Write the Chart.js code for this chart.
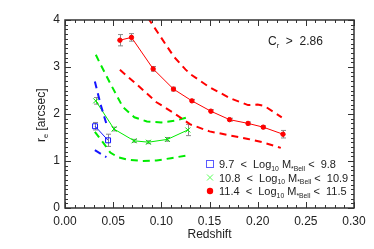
<!DOCTYPE html>
<html>
<head>
<meta charset="utf-8">
<script src="https://cdn.jsdelivr.net/npm/chart.js@4.4.1/dist/chart.umd.min.js"></script>
<style>
  html, body { margin: 0; padding: 0; background: #fff; }
  #wrap { width: 374px; height: 249px; }
</style>
</head>
<body>
<div id="wrap"><canvas id="chart" width="374" height="249"></canvas></div>
<script>
// mass bin 11.4 - 11.5 (red)
const redZ = [0.057, 0.069, 0.0915, 0.1126, 0.1317, 0.1514, 0.1708, 0.190, 0.2058, 0.2263];
const redR = [3.57, 3.63, 2.96, 2.53, 2.28, 2.06, 1.88, 1.80, 1.72, 1.57];
const redErr = [0.12, 0.08, 0.05, 0.04, 0.03, 0.03, 0.03, 0.03, 0.03, 0.08];
const redUpperZ = [0.086, 0.10, 0.113, 0.125, 0.13, 0.15, 0.172, 0.19, 0.20, 0.207, 0.225];
const redUpperR = [4.05, 3.62, 3.22, 2.95, 2.85, 2.57, 2.33, 2.19, 2.20, 2.17, 1.93];
const redLowerZ = [0.057, 0.075, 0.095, 0.113, 0.13, 0.15, 0.17, 0.19, 0.205, 0.224];
const redLowerR = [2.94, 2.62, 2.25, 2.02, 1.78, 1.63, 1.55, 1.47, 1.40, 1.28];

// mass bin 10.8 - 10.9 (green)
const greenZ = [0.0319, 0.0509, 0.0717, 0.0866, 0.1063, 0.1275];
const greenR = [2.28, 1.68, 1.43, 1.40, 1.46, 1.66];
const greenErr = [0.07, 0.04, 0.03, 0.03, 0.04, 0.12];
const greenUpperZ = [0.032, 0.037, 0.047, 0.06, 0.072, 0.085, 0.10, 0.115, 0.127];
const greenUpperR = [3.26, 3.05, 2.65, 2.15, 1.93, 1.84, 1.82, 1.86, 1.93];
const greenLowerZ = [0.031, 0.04, 0.047, 0.055, 0.065, 0.08, 0.095, 0.11, 0.127];
const greenLowerR = [1.62, 1.38, 1.18, 1.08, 1.03, 1.0, 1.01, 1.06, 1.12];

// mass bin 9.7 - 9.8 (blue)
const blueZ = [0.0312, 0.0447];
const blueR = [1.74, 1.44];
const blueErr = [0.08, 0.13];
const blueUpperZ = [0.031, 0.037, 0.044];
const blueUpperR = [2.69, 2.2, 1.72];
const blueLowerZ = [0.031, 0.043];
const blueLowerR = [1.23, 1.08];

const xTicks = [0, 0.05, 0.10, 0.15, 0.20, 0.25, 0.30];
const yTicks = [0, 1, 2, 3, 4];

const RED = 'rgb(255,0,0)';
const GREEN = 'rgb(0,235,0)';
const BLUE = 'rgb(20,20,255)';
const FONT = '"Liberation Sans", Arial, sans-serif';

const pts = (xs, ys) => xs.map((x, i) => ({ x, y: ys[i] }));

function dashed(xs, ys, color) {
  return {
    data: pts(xs, ys),
    showLine: true,
    borderColor: color,
    borderWidth: 2,
    borderDash: [7, 5],
    pointRadius: 0,
    fill: false,
  };
}

// grey error bars under the symbols
const errorBars = {
  id: 'errorBars',
  beforeDatasetsDraw(chart) {
    const { ctx, scales: { x, y } } = chart;
    ctx.save();
    ctx.strokeStyle = '#8a8a8a';
    ctx.lineWidth = 1;
    chart.data.datasets.forEach((ds) => {
      if (!ds.yErr) return;
      ds.data.forEach((p, i) => {
        const px = Math.round(x.getPixelForValue(p.x)) + 0.5;
        const top = y.getPixelForValue(p.y + ds.yErr[i]);
        const bot = y.getPixelForValue(p.y - ds.yErr[i]);
        ctx.beginPath();
        ctx.moveTo(px, top); ctx.lineTo(px, bot);
        ctx.moveTo(px - 2.5, top); ctx.lineTo(px + 2.5, top);
        ctx.moveTo(px - 2.5, bot); ctx.lineTo(px + 2.5, bot);
        ctx.stroke();
      });
    });
    ctx.restore();
  },
};

// draw text pieces, some as subscripts
function rich(ctx, parts, x, y, size) {
  let cx = x;
  parts.forEach(([t, sub]) => {
    const s = sub ? size * 0.62 : size;
    ctx.font = `${s}px ${FONT}`;
    ctx.fillText(t, cx, sub ? y + size * 0.25 : y);
    cx += ctx.measureText(t).width;
  });
}

const frame = {
  id: 'frame',
  afterDraw(chart) {
    const { ctx, chartArea: a, scales: { x, y } } = chart;
    ctx.save();
    ctx.strokeStyle = '#333';
    ctx.lineWidth = 1.5;
    ctx.strokeRect(a.left, a.top, a.right - a.left, a.bottom - a.top);

    // IDL style inward ticks on all sides
    ctx.lineWidth = 1;
    ctx.beginPath();
    for (let i = 0; i <= 30; i++) {
      const px = Math.round(x.getPixelForValue(i / 100)) + 0.5;
      const len = i % 5 === 0 ? 6 : 3;
      ctx.moveTo(px, a.bottom); ctx.lineTo(px, a.bottom - len);
      ctx.moveTo(px, a.top); ctx.lineTo(px, a.top + len);
    }
    for (let i = 0; i <= 40; i++) {
      const py = Math.round(y.getPixelForValue(i / 10)) + 0.5;
      const len = i % 10 === 0 ? 6 : 3;
      ctx.moveTo(a.left, py); ctx.lineTo(a.left + len, py);
      ctx.moveTo(a.right, py); ctx.lineTo(a.right - len, py);
    }
    ctx.stroke();

    ctx.fillStyle = '#222';
    ctx.textBaseline = 'alphabetic';
    ctx.textAlign = 'left';

    // x title
    ctx.font = `12px ${FONT}`;
    const tw = ctx.measureText('Redshift').width;
    ctx.fillText('Redshift', (a.left + a.right) / 2 - tw / 2, 238);

    // y title, rotated
    ctx.save();
    ctx.translate(45, (a.top + a.bottom) / 2);
    ctx.rotate(-Math.PI / 2);
    rich(ctx, [['r'], ['e', true], [' [arcsec]']], -28, 0, 12);
    ctx.restore();

    // selection label
    rich(ctx, [['C'], ['r', true], ['  >  2.86']], 268, 45, 12);

    // legend
    const rows = [
      ['9.7', '9.8', 164],
      ['10.8', '10.9', 177.5],
      ['11.4', '11.5', 191],
    ];
    rows.forEach(([lo, hi, ry]) => {
      ctx.fillStyle = '#222';
      rich(ctx, [[lo + '  <  Log'], ['10', true], [' M'], ['*Bell', true], [' <  ' + hi]], 219, ry + 4, 11);
    });
    const mx = 210;
    ctx.strokeStyle = 'rgb(90,90,255)';
    ctx.lineWidth = 1;
    ctx.strokeRect(mx - 3.5, 164 - 3.5, 7, 7);
    ctx.strokeStyle = 'rgb(90,255,90)';
    ctx.beginPath();
    ctx.moveTo(mx - 3, 177.5 - 3); ctx.lineTo(mx + 3, 177.5 + 3);
    ctx.moveTo(mx - 3, 177.5 + 3); ctx.lineTo(mx + 3, 177.5 - 3);
    ctx.stroke();
    ctx.fillStyle = RED;
    ctx.beginPath();
    ctx.arc(mx, 191, 3.2, 0, Math.PI * 2);
    ctx.fill();
    ctx.restore();
  },
};

new Chart(document.getElementById('chart').getContext('2d'), {
  type: 'scatter',
  data: {
    datasets: [
      dashed(redUpperZ, redUpperR, RED),
      dashed(redLowerZ, redLowerR, RED),
      dashed(greenUpperZ, greenUpperR, GREEN),
      dashed(greenLowerZ, greenLowerR, GREEN),
      dashed(blueUpperZ, blueUpperR, BLUE),
      dashed(blueLowerZ, blueLowerR, BLUE),
      {
        data: pts(blueZ, blueR),
        yErr: blueErr,
        showLine: true,
        borderColor: BLUE,
        borderWidth: 1,
        pointStyle: 'rect',
        pointRadius: 3.5,
        pointBorderColor: BLUE,
        pointBackgroundColor: 'rgba(0,0,0,0)',
        pointBorderWidth: 1,
      },
      {
        data: pts(greenZ, greenR),
        yErr: greenErr,
        showLine: true,
        borderColor: GREEN,
        borderWidth: 1,
        pointStyle: 'crossRot',
        pointRadius: 3.5,
        pointBorderColor: GREEN,
        pointBorderWidth: 1,
      },
      {
        data: pts(redZ, redR),
        yErr: redErr,
        showLine: true,
        borderColor: RED,
        borderWidth: 1,
        pointStyle: 'circle',
        pointRadius: 2.2,
        pointBorderWidth: 1,
        pointBackgroundColor: RED,
        pointBorderColor: RED,
      },
    ],
  },
  options: {
    responsive: false,
    devicePixelRatio: 1,
    animation: false,
    layout: { padding: { left: 0, top: 20, right: 20, bottom: 0 } },
    plugins: { legend: { display: false }, tooltip: { enabled: false } },
    scales: {
      x: {
        type: 'linear',
        min: 0,
        max: 0.3,
        afterBuildTicks: (s) => { s.ticks = xTicks.map((v) => ({ value: v })); },
        afterFit: (s) => { s.height = 41; },
        grid: { display: false, drawTicks: false },
        border: { display: false },
        ticks: {
          color: '#222',
          padding: 6,
          maxRotation: 0,
          font: { size: 12, family: FONT },
          callback: (v) => v.toFixed(2),
        },
      },
      y: {
        type: 'linear',
        min: 0,
        max: 4,
        afterBuildTicks: (s) => { s.ticks = yTicks.map((v) => ({ value: v })); },
        afterFit: (s) => { s.width = 65; },
        grid: { display: false, drawTicks: false },
        border: { display: false },
        ticks: {
          color: '#222',
          padding: 5,
          font: { size: 12, family: FONT },
          callback: (v) => `${v}`,
        },
      },
    },
  },
  plugins: [errorBars, frame],
});
</script>
</body>
</html>
